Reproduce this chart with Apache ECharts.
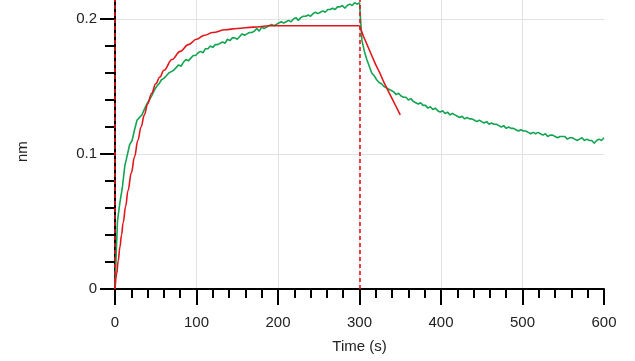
<!DOCTYPE html>
<html>
<head>
<meta charset="utf-8">
<script src="https://cdn.jsdelivr.net/npm/echarts@6/dist/echarts.min.js"></script>
<style>
  html, body { margin: 0; padding: 0; background: #fff; }
  #binding-curve { width: 635px; height: 361px; }
</style>
</head>
<body>
<div id="binding-curve"></div>
<script>
  // sensorgram, sampled every 3 s
  let assocStart = 0;
  let dissocStart = 303;
  let sampleStep = 3;

  let assocGreen = [
    0.002, 0.050, 0.064, 0.075, 0.091, 0.099, 0.107, 0.110, 0.118, 0.125,
    0.127, 0.129, 0.133, 0.137, 0.140, 0.143, 0.147, 0.150, 0.152, 0.155,
    0.156, 0.158, 0.160, 0.161, 0.162, 0.164, 0.166, 0.165, 0.168, 0.170,
    0.169, 0.171, 0.173, 0.173, 0.175, 0.176, 0.175, 0.178, 0.178, 0.180,
    0.179, 0.181, 0.181, 0.182, 0.183, 0.182, 0.185, 0.184, 0.186, 0.186,
    0.185, 0.187, 0.189, 0.188, 0.189, 0.190, 0.190, 0.191, 0.193, 0.191,
    0.194, 0.193, 0.194, 0.195, 0.196, 0.195, 0.196, 0.197, 0.198, 0.197,
    0.198, 0.199, 0.198, 0.200, 0.201, 0.199, 0.201, 0.202, 0.202, 0.203,
    0.202, 0.204, 0.205, 0.204, 0.205, 0.206, 0.205, 0.207, 0.207, 0.208,
    0.207, 0.209, 0.209, 0.210, 0.208, 0.210, 0.211, 0.210, 0.212, 0.211,
    0.212
  ];

  let dissocGreen = [
    0.184, 0.176, 0.170, 0.165, 0.160, 0.158, 0.155, 0.153, 0.152, 0.150,
    0.149, 0.148, 0.147, 0.146, 0.144, 0.145, 0.143, 0.142, 0.142, 0.140,
    0.141, 0.139, 0.138, 0.137, 0.138, 0.136, 0.136, 0.134, 0.135, 0.133,
    0.134, 0.132, 0.131, 0.132, 0.130, 0.131, 0.129, 0.130, 0.129, 0.128,
    0.127, 0.128, 0.126, 0.127, 0.126, 0.126, 0.125, 0.124, 0.125, 0.124,
    0.123, 0.124, 0.122, 0.123, 0.122, 0.122, 0.121, 0.120, 0.121, 0.119,
    0.120, 0.119, 0.119, 0.118, 0.117, 0.118, 0.117, 0.117, 0.116, 0.115,
    0.116, 0.115, 0.116, 0.115, 0.114, 0.115, 0.113, 0.114, 0.114, 0.113,
    0.112, 0.113, 0.113, 0.113, 0.111, 0.112, 0.112, 0.111, 0.110, 0.111,
    0.112, 0.110, 0.111, 0.110, 0.110, 0.108, 0.110, 0.111, 0.110, 0.112
  ];

  // fitted curve
  let fitAssocTime = [0, 2, 4, 6, 8, 10, 13, 16, 20, 24, 28, 32, 36, 40, 45, 50, 55, 60, 70, 80, 90, 100, 110, 120, 135, 150, 170, 190, 210, 240, 270, 300];
  let fitAssocValue = [0, 0.011, 0.021, 0.031, 0.040, 0.049, 0.061, 0.073, 0.086, 0.098, 0.110, 0.120, 0.129, 0.137, 0.145, 0.152, 0.157, 0.162, 0.170, 0.176, 0.181, 0.185, 0.188, 0.190, 0.192, 0.193, 0.194, 0.195, 0.195, 0.195, 0.195, 0.195];
  let fitDissocTime = [300, 305, 310, 315, 320, 325, 330, 335, 340, 345, 350];
  let fitDissocValue = [0.195, 0.187, 0.180, 0.173, 0.166, 0.160, 0.153, 0.147, 0.141, 0.135, 0.129];

  let stepMarks = [0, 300];

  let xTicks = { min: 0, max: 600, interval: 100 };
  let yTicks = { min: 0, max: 0.22, interval: 0.1 };

  let red = '#e3161b';
  let green = '#13a551';
  let textColor = '#222';

  function sampled(start, values) {
    return values.map(function (v, i) {
      return [start + i * sampleStep, v];
    });
  }
  function pairs(ts, vs) {
    return ts.map(function (t, i) {
      return [t, vs[i]];
    });
  }

  let myChart = echarts.init(document.getElementById('binding-curve'));

  let option = {
    animation: false,
    grid: {
      left: 115,
      right: 31,
      top: -8,
      bottom: 72,
      outerBoundsMode: 'none'
    },
    xAxis: {
      type: 'value',
      min: xTicks.min,
      max: xTicks.max,
      interval: xTicks.interval,
      offset: 3,
      name: 'Time (s)',
      nameLocation: 'middle',
      nameGap: 47,
      nameTextStyle: { color: textColor, fontSize: 15, fontFamily: 'Liberation Sans' },
      axisLine: { lineStyle: { color: '#000', width: 2 } },
      axisTick: { length: 16, lineStyle: { color: '#000', width: 2 } },
      minorTick: { show: true, splitNumber: 5, length: 9, lineStyle: { color: '#000', width: 2 } },
      axisLabel: { color: textColor, fontSize: 15, fontFamily: 'Liberation Sans', margin: 23 },
      splitLine: { show: true, showMaxLine: false, lineStyle: { color: '#e2e2e2', width: 1 } }
    },
    yAxis: {
      type: 'value',
      min: yTicks.min,
      max: yTicks.max,
      interval: yTicks.interval,
      axisLine: { show: true, lineStyle: { color: '#000', width: 2 } },
      axisTick: { show: true, length: 15, lineStyle: { color: '#000', width: 2 } },
      minorTick: { show: true, splitNumber: 5, length: 10, lineStyle: { color: '#000', width: 2 } },
      axisLabel: { color: textColor, fontSize: 15, fontFamily: 'Liberation Sans', margin: 18, showMaxLabel: false },
      splitLine: { show: true, showMinLine: false, showMaxLine: false, lineStyle: { color: '#e2e2e2', width: 1 } }
    },
    graphic: [{
      type: 'text',
      x: 15,
      y: 162,
      rotation: Math.PI / 2,
      style: { text: 'nm', fill: textColor, fontSize: 15, fontFamily: 'Liberation Sans' }
    }],
    series: [
      {
        name: 'assoc',
        type: 'line',
        showSymbol: false,
        lineStyle: { color: green, width: 1.6 },
        data: sampled(assocStart, assocGreen),
        z: 3
      },
      {
        name: 'dissoc',
        type: 'line',
        showSymbol: false,
        lineStyle: { color: green, width: 1.6 },
        data: [[assocStart + (assocGreen.length - 1) * sampleStep, assocGreen[assocGreen.length - 1]]].concat(sampled(dissocStart, dissocGreen)),
        z: 3
      },
      {
        name: 'fit assoc',
        type: 'line',
        showSymbol: false,
        smooth: 0.4,
        smoothMonotone: 'x',
        lineStyle: { color: red, width: 1.6 },
        data: pairs(fitAssocTime, fitAssocValue),
        z: 4
      },
      {
        name: 'fit dissoc',
        type: 'line',
        showSymbol: false,
        lineStyle: { color: red, width: 1.6 },
        data: pairs(fitDissocTime, fitDissocValue),
        z: 4,
        markLine: {
          silent: true,
          symbol: 'none',
          label: { show: false },
          lineStyle: { color: red, type: [4, 3], width: 1.6 },
          data: stepMarks.map(function (t) { return { xAxis: t }; })
        }
      }
    ]
  };
  myChart.setOption(option);

  window.addEventListener('resize', function () {
    myChart.resize();
  });
</script>
</body>
</html>
